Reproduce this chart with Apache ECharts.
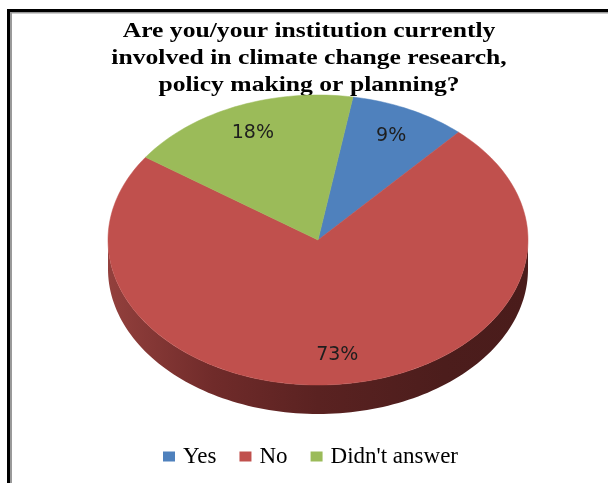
<!DOCTYPE html>
<html>
<head>
<meta charset="utf-8">
<script src="https://cdn.jsdelivr.net/npm/echarts@6/dist/echarts.min.js"></script>
<style>
  html, body { margin: 0; padding: 0; background: #fff; }
  #chart { width: 608px; height: 483px; }
</style>
</head>
<body>
<div id="chart"></div>
<script>
// Survey answers
const categories = ['Yes', 'No', "Didn't answer"];
const values = [9, 73, 18];
const sliceColors = ['#4F81BD', '#C0504D', '#9BBB59'];
const titleText = 'Are you/your institution currently\ninvolved in climate change research,\npolicy making or planning?';

// Tilted pie layout (top face is an ellipse, the rim has a visible depth)
const CX = 318, CY = 240, RX = 210, RY = 145, DEPTH = 29;
const START_DEG = 9.6;     // first slice starts this far clockwise from 12 o'clock
const LABEL_FRAC = 0.8;    // label distance along the slice bisector

const total = values.reduce((a, b) => a + b, 0);

function startAngle(i) {
  let s = 0;
  for (let k = 0; k < i; k++) s += values[k];
  return START_DEG + s / total * 360;
}
function pointAt(deg, dy, f) {
  const r = deg * Math.PI / 180;
  const k = f == null ? 1 : f;
  return [CX + k * RX * Math.sin(r), CY - k * RY * Math.cos(r) + (dy || 0)];
}
function arcPoints(a0, a1, dy) {
  const n = Math.max(2, Math.ceil(Math.abs(a1 - a0) / 1.5));
  const pts = [];
  for (let k = 0; k <= n; k++) pts.push(pointAt(a0 + (a1 - a0) * k / n, dy));
  return pts;
}

const sideGradient = {
  type: 'linear', global: true,
  x: CX - RX, y: 0, x2: CX + RX, y2: 0,
  colorStops: [
    { offset: 0, color: '#93403D' },
    { offset: 0.25, color: '#702B2A' },
    { offset: 0.5, color: '#5A2221' },
    { offset: 0.8, color: '#4C1D1C' },
    { offset: 1, color: '#4A1C1B' }
  ]
};

function makeSeries(i) {
  return {
    type: 'custom',
    name: categories[i],
    coordinateSystem: 'none',
    itemStyle: { color: sliceColors[i] },
    data: [[values[i]]],
    renderItem: function (params, api) {
      const v = api.value(0);
      const a0 = startAngle(i);
      const a1 = a0 + v / total * 360;
      const children = [];

      // rim: only the front half (90..270 deg, and its next turn) faces the viewer
      [[90, 270], [450, 630]].forEach(function (rng) {
        const s = Math.max(a0, rng[0]);
        const e = Math.min(a1, rng[1]);
        if (e > s) {
          const pts = arcPoints(s, e, 0).concat(arcPoints(e, s, DEPTH));
          children.push({
            type: 'polygon', z2: 1,
            shape: { points: pts },
            style: { fill: sideGradient, stroke: null }
          });
        }
      });

      // top face
      children.push({
        type: 'polygon', z2: 10,
        shape: { points: [[CX, CY]].concat(arcPoints(a0, a1, 0)) },
        style: { fill: sliceColors[i], stroke: sliceColors[i], lineWidth: 0.5 }
      });

      // percentage label
      const mid = (a0 + a1) / 2;
      const lp = pointAt(mid, 0, LABEL_FRAC);
      children.push({
        type: 'text', z2: 20,
        x: lp[0], y: lp[1],
        style: {
          text: v + '%',
          align: 'center', verticalAlign: 'middle',
          font: '19px "DejaVu Sans"',
          fill: '#1e1e1e'
        }
      });
      return { type: 'group', children: children };
    }
  };
}

const chart = echarts.init(document.getElementById('chart'), null, { renderer: 'canvas' });
chart.setOption({
  backgroundColor: '#fff',
  animation: false,
  legend: {
    data: categories,
    left: 158,
    top: 440,
    icon: 'rect',
    itemWidth: 12,
    itemHeight: 10,
    itemGap: 23,
    selectedMode: false,
    textStyle: { fontFamily: 'Liberation Serif', fontSize: 23, color: '#000', padding: [0, 0, 0, 3] }
  },
  graphic: [
    // frame: dark outer edge with a thin grey inner line
    { type: 'rect', shape: { x: 7, y: 9, width: 601, height: 3 }, style: { fill: '#000' } },
    { type: 'rect', shape: { x: 7, y: 9, width: 3, height: 474 }, style: { fill: '#000' } },
    { type: 'rect', shape: { x: 10, y: 12, width: 598, height: 1.5 }, style: { fill: '#9a9a9a' } },
    { type: 'rect', shape: { x: 10, y: 12, width: 2, height: 471 }, style: { fill: '#9a9a9a' } },
    // chart title, set in a widened bold serif
    {
      type: 'text', x: 309, y: 59, scaleX: 1.22, scaleY: 1,
      style: {
        text: titleText,
        font: 'bold 21px "Liberation Serif"',
        lineHeight: 27,
        align: 'center', verticalAlign: 'middle',
        fill: '#000'
      }
    }
  ],
  series: categories.map(function (c, i) { return makeSeries(i); })
});
</script>
</body>
</html>
